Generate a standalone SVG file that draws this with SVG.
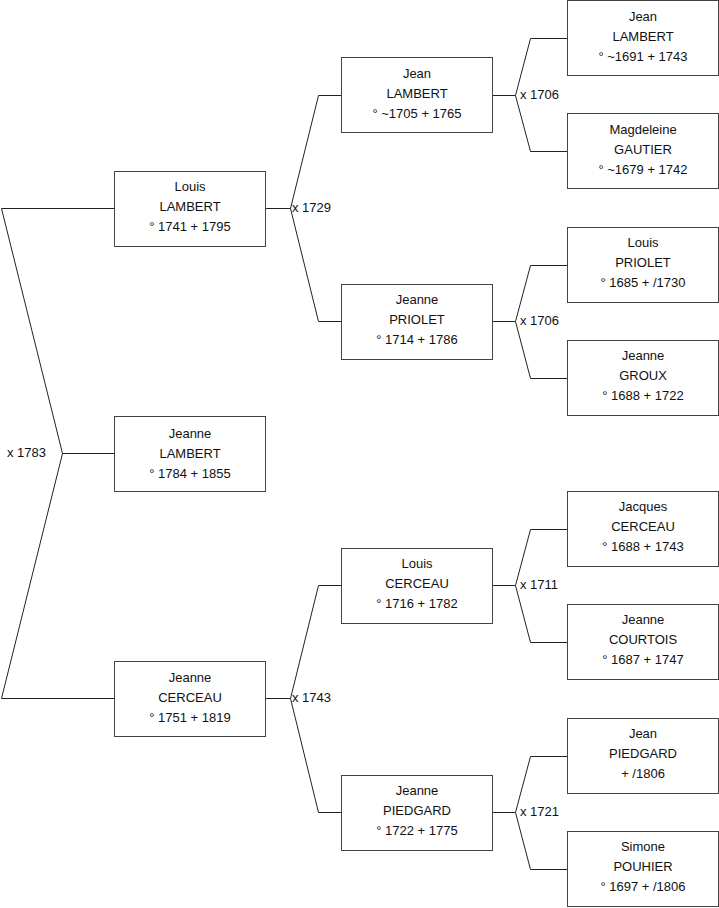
<svg xmlns="http://www.w3.org/2000/svg" width="719" height="908" viewBox="0 0 719 908">
<style>
.box{fill:#fff;stroke:#444;stroke-width:1}
.ln{fill:none;stroke:#222;stroke-width:1}
text{font-family:"Liberation Sans",Arial,sans-serif;font-size:13px;fill:#111}
.c{text-anchor:middle}
</style>
<rect width="719" height="908" fill="#fff"/>
<g id="connectors">
<path class="ln" d="M1.5,208.5H114.5M1.5,698.5H114.5M1.5,208.5L62.5,453.5L1.5,698.5M62.5,453.5H114.5"/>
<path class="ln" d="M265.5,208.5H290.5M318.5,95.5L290.5,208.5L318.5,321.5M318.5,95.5H341.5M318.5,321.5H341.5"/>
<path class="ln" d="M265.5,698.5H290.5M318.5,585.5L290.5,698.5L318.5,812.5M318.5,585.5H341.5M318.5,812.5H341.5"/>
<path class="ln" d="M492.5,95.5H515.5M530.5,38.5L515.5,95.5L530.5,151.5M530.5,38.5H567.5M530.5,151.5H567.5"/>
<path class="ln" d="M492.5,321.5H515.5M530.5,265.5L515.5,321.5L530.5,378.5M530.5,265.5H567.5M530.5,378.5H567.5"/>
<path class="ln" d="M492.5,585.5H515.5M530.5,529.5L515.5,585.5L530.5,642.5M530.5,529.5H567.5M530.5,642.5H567.5"/>
<path class="ln" d="M492.5,812.5H515.5M530.5,756.5L515.5,812.5L530.5,869.5M530.5,756.5H567.5M530.5,869.5H567.5"/>
<text x="7" y="457">x 1783</text>
<text x="292" y="212">x 1729</text>
<text x="292" y="702">x 1743</text>
<text x="520" y="99">x 1706</text>
<text x="520" y="325">x 1706</text>
<text x="520" y="589">x 1711</text>
<text x="520" y="816">x 1721</text>
</g>
<g id="n1"><rect class="box" x="114.5" y="171.5" width="151" height="75"/><text class="c" x="190" y="191">Louis</text><text class="c" x="190" y="211">LAMBERT</text><text class="c" x="190" y="231">° 1741 + 1795</text></g>
<g id="n2"><rect class="box" x="114.5" y="416.5" width="151" height="75"/><text class="c" x="190" y="438">Jeanne</text><text class="c" x="190" y="458">LAMBERT</text><text class="c" x="190" y="478">° 1784 + 1855</text></g>
<g id="n3"><rect class="box" x="114.5" y="661.5" width="151" height="75"/><text class="c" x="190" y="682">Jeanne</text><text class="c" x="190" y="702">CERCEAU</text><text class="c" x="190" y="722">° 1751 + 1819</text></g>
<g id="n4"><rect class="box" x="341.5" y="57.5" width="151" height="75"/><text class="c" x="417" y="78">Jean</text><text class="c" x="417" y="98">LAMBERT</text><text class="c" x="417" y="118">° ~1705 + 1765</text></g>
<g id="n5"><rect class="box" x="341.5" y="284.5" width="151" height="75"/><text class="c" x="417" y="304">Jeanne</text><text class="c" x="417" y="324">PRIOLET</text><text class="c" x="417" y="344">° 1714 + 1786</text></g>
<g id="n6"><rect class="box" x="341.5" y="548.5" width="151" height="75"/><text class="c" x="417" y="568">Louis</text><text class="c" x="417" y="588">CERCEAU</text><text class="c" x="417" y="608">° 1716 + 1782</text></g>
<g id="n7"><rect class="box" x="341.5" y="775.5" width="151" height="75"/><text class="c" x="417" y="795">Jeanne</text><text class="c" x="417" y="815">PIEDGARD</text><text class="c" x="417" y="835">° 1722 + 1775</text></g>
<g id="n8"><rect class="box" x="567.5" y="0.5" width="151" height="75"/><text class="c" x="643" y="21">Jean</text><text class="c" x="643" y="41">LAMBERT</text><text class="c" x="643" y="61">° ~1691 + 1743</text></g>
<g id="n9"><rect class="box" x="567.5" y="113.5" width="151" height="75"/><text class="c" x="643" y="134">Magdeleine</text><text class="c" x="643" y="154">GAUTIER</text><text class="c" x="643" y="174">° ~1679 + 1742</text></g>
<g id="n10"><rect class="box" x="567.5" y="227.5" width="151" height="75"/><text class="c" x="643" y="247">Louis</text><text class="c" x="643" y="267">PRIOLET</text><text class="c" x="643" y="287">° 1685 + /1730</text></g>
<g id="n11"><rect class="box" x="567.5" y="340.5" width="151" height="75"/><text class="c" x="643" y="360">Jeanne</text><text class="c" x="643" y="380">GROUX</text><text class="c" x="643" y="400">° 1688 + 1722</text></g>
<g id="n12"><rect class="box" x="567.5" y="491.5" width="151" height="75"/><text class="c" x="643" y="511">Jacques</text><text class="c" x="643" y="531">CERCEAU</text><text class="c" x="643" y="551">° 1688 + 1743</text></g>
<g id="n13"><rect class="box" x="567.5" y="604.5" width="151" height="75"/><text class="c" x="643" y="624">Jeanne</text><text class="c" x="643" y="644">COURTOIS</text><text class="c" x="643" y="664">° 1687 + 1747</text></g>
<g id="n14"><rect class="box" x="567.5" y="718.5" width="151" height="75"/><text class="c" x="643" y="738">Jean</text><text class="c" x="643" y="758">PIEDGARD</text><text class="c" x="643" y="778">+ /1806</text></g>
<g id="n15"><rect class="box" x="567.5" y="831.5" width="151" height="75"/><text class="c" x="643" y="851">Simone</text><text class="c" x="643" y="871">POUHIER</text><text class="c" x="643" y="891">° 1697 + /1806</text></g>
</svg>
